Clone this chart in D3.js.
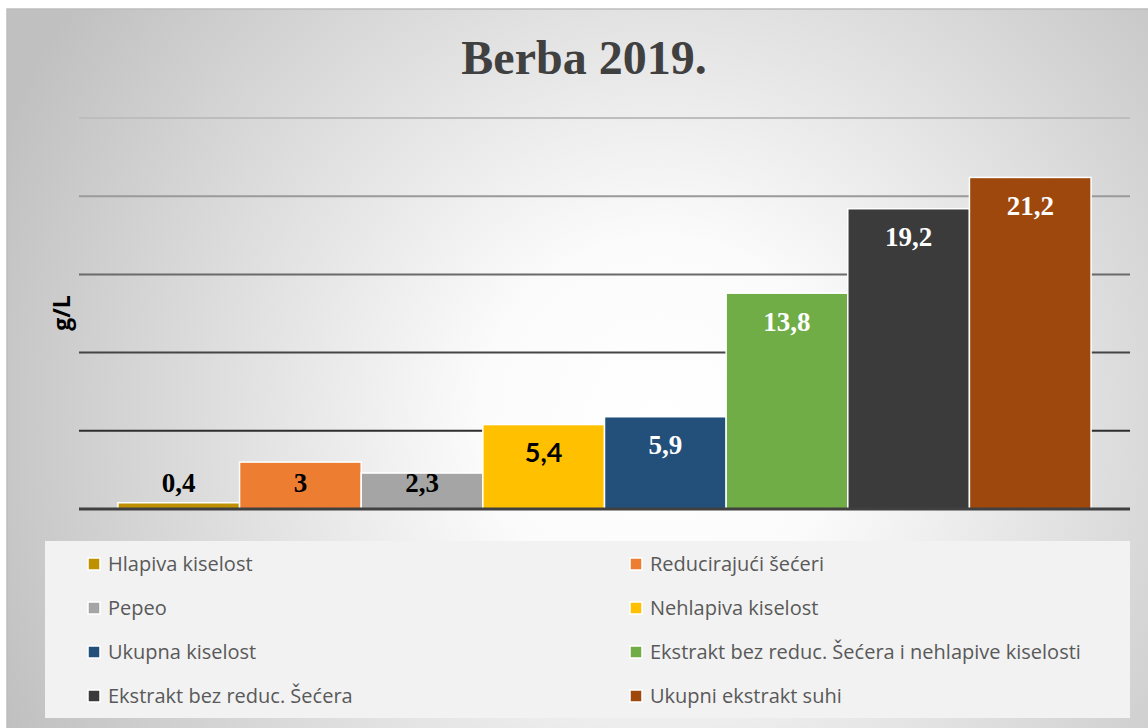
<!DOCTYPE html>
<html>
<head>
<meta charset="utf-8">
<script src="https://cdn.jsdelivr.net/npm/d3@7"></script>
<style>
  html, body { margin: 0; padding: 0; background: #fff; }
  svg { display: block; }
</style>
</head>
<body>
<div id="chart"></div>
<script>
const categories = [
    "Hlapiva kiselost", "Reducirajući šećeri", "Pepeo", "Nehlapiva kiselost",
    "Ukupna kiselost", "Ekstrakt bez reduc. Šećera i nehlapive kiselosti",
    "Ekstrakt bez reduc. Šećera", "Ukupni ekstrakt suhi"
];
const values = [0.4, 3, 2.3, 5.4, 5.9, 13.8, 19.2, 21.2];
const valueLabels = ["0,4", "3", "2,3", "5,4", "5,9", "13,8", "19,2", "21,2"];
const yTicks = [0, 5, 10, 15, 20, 25];
const colors = ["#bf9000", "#ed7d31", "#a5a5a5", "#ffc000", "#22507a", "#70ad47", "#3b3b3b", "#9e480e"];

const W = 1148, H = 728;
const svg = d3.select("#chart").append("svg")
    .attr("width", W)
    .attr("height", H);

const defs = svg.append("defs");
const bg = defs.append("radialGradient")
    .attr("id", "bg")
    .attr("gradientUnits", "userSpaceOnUse")
    .attr("cx", 660).attr("cy", 420).attr("r", 720);
bg.append("stop").attr("offset", "0").attr("stop-color", "#ffffff");
bg.append("stop").attr("offset", "0.25").attr("stop-color", "#fbfbfb");
bg.append("stop").attr("offset", "1").attr("stop-color", "#c0c0c0");

// chart panel
svg.append("rect")
    .attr("x", 7).attr("y", 9)
    .attr("width", W + 10).attr("height", H + 10)
    .attr("fill", "url(#bg)")
    .attr("stroke", "#bdbdbd")
    .attr("stroke-width", 1.5);

svg.append("text")
    .attr("x", 584).attr("y", 74)
    .attr("text-anchor", "middle")
    .style("font-family", "'Liberation Serif', 'Times New Roman', serif")
    .style("font-weight", "bold")
    .style("font-size", "48px")
    .style("fill", "#404040")
    .text("Berba 2019.");

const x = d3.scaleBand()
    .domain(categories)
    .range([79, 1130])
    .paddingInner(0)
    .paddingOuter(0.32);

const y = d3.scaleLinear()
    .domain([0, 25])
    .range([509, 118]);

const gridColor = d3.scaleLinear()
    .domain([5, 10, 15, 20, 25])
    .range(["#2e2e2e", "#454545", "#6a6a6a", "#9a9a9a", "#bdbdbd"]);

// gridlines
svg.append("g")
    .selectAll("line")
    .data(yTicks.filter(d => d > 0))
    .enter().append("line")
    .attr("x1", 79).attr("x2", 1130)
    .attr("y1", d => y(d)).attr("y2", d => y(d))
    .attr("stroke", d => gridColor(d))
    .attr("stroke-width", 2);

// bars
svg.append("g")
    .selectAll("rect")
    .data(values)
    .enter().append("rect")
    .attr("x", (d, i) => x(categories[i]))
    .attr("y", d => y(d))
    .attr("width", x.bandwidth())
    .attr("height", d => y(0) - y(d))
    .attr("fill", (d, i) => colors[i])
    .attr("stroke", "#ffffff")
    .attr("stroke-width", 1.5);

// baseline
svg.append("line")
    .attr("x1", 79).attr("x2", 1130)
    .attr("y1", y(0)).attr("y2", y(0))
    .attr("stroke", "#404040")
    .attr("stroke-width", 3);

// value labels
svg.append("g")
    .selectAll("text")
    .data(values)
    .enter().append("text")
    .attr("x", (d, i) => x(categories[i]) + x.bandwidth() / 2)
    .attr("y", d => Math.min(y(d) + 28, y(0) - 26))
    .attr("dy", "0.35em")
    .attr("text-anchor", "middle")
    .style("font-family", (d, i) => i === 3 ? "Lato, 'Open Sans', sans-serif" : "'Liberation Serif', 'Times New Roman', serif")
    .style("font-weight", "bold")
    .style("font-size", "27px")
    .style("fill", (d, i) => i < 4 ? "#000000" : "#ffffff")
    .text((d, i) => valueLabels[i]);

// y axis title
svg.append("text")
    .attr("transform", "translate(70,313) rotate(-90)")
    .attr("text-anchor", "middle")
    .style("font-family", "'Open Sans', sans-serif")
    .style("font-weight", "bold")
    .style("font-size", "23px")
    .style("fill", "#000")
    .text("g/L");

// legend
svg.append("rect")
    .attr("x", 45).attr("y", 541)
    .attr("width", 1085).attr("height", 177)
    .attr("fill", "#f2f2f2");

const legend = svg.selectAll(".legend")
    .data(categories)
    .enter().append("g")
    .attr("class", "legend")
    .attr("transform", (d, i) => `translate(${i % 2 === 0 ? 88 : 630}, ${564 + Math.floor(i / 2) * 44})`);

legend.append("rect")
    .attr("x", 0).attr("y", -6)
    .attr("width", 12).attr("height", 12)
    .attr("fill", (d, i) => colors[i])
    .attr("stroke", "#ffffff")
    .attr("stroke-width", 1.5);

legend.append("text")
    .attr("x", 20)
    .attr("y", 0)
    .attr("dy", "0.35em")
    .style("font-family", "'Open Sans', sans-serif")
    .style("font-size", "20px")
    .style("fill", "#595959")
    .text(d => d);
</script>
</body>
</html>
